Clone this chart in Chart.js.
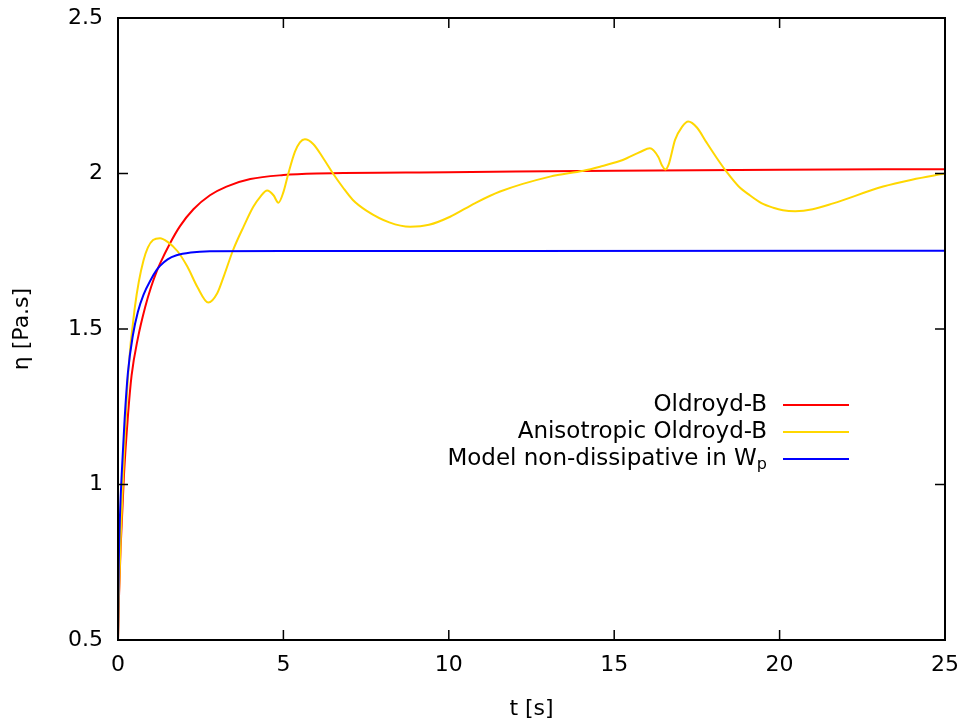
<!DOCTYPE html>
<html>
<head>
<meta charset="utf-8">
<script src="https://cdn.jsdelivr.net/npm/chart.js@4.4.0/dist/chart.umd.min.js"></script>
<style>
  body { margin: 0; background: #fff; }
  #wrap { width: 968px; height: 724px; }
</style>
</head>
<body>
<div id="wrap"><canvas id="chart" width="968" height="724"></canvas></div>
<script>
// values
let seriesNames = ['Oldroyd-B', 'Anisotropic Oldroyd-B', 'Model non-dissipative in W']
let seriesColors = ['#ff0000', '#ffd700', '#0000ff']

let tRed = [0, 0.03, 0.08, 0.18, 0.3, 0.41, 0.6, 0.82, 1.0, 1.17, 1.27, 1.57, 1.87, 2.28, 2.78, 3.28, 4.0, 5.0, 6.0, 10, 15, 20, 25]
let etaRed = [0.5, 0.64, 0.8, 1.03, 1.22, 1.35, 1.47, 1.57, 1.635, 1.685, 1.71, 1.775, 1.83, 1.885, 1.93, 1.958, 1.982, 1.995, 2.0, 2.004, 2.009, 2.012, 2.014]

let tYellow = [0, 0.03, 0.09, 0.16, 0.31, 0.51, 0.77, 1.06, 1.27, 1.5, 1.8, 2.1, 2.4, 2.73, 3.0, 3.2, 3.48, 3.8, 4.09, 4.3, 4.51, 4.7, 4.85, 5.0, 5.15, 5.35, 5.5, 5.65, 5.9, 6.2, 6.5, 6.8, 7.1, 7.52, 8.2, 8.83, 9.4, 10.04, 10.8, 11.55, 13.06, 14.07, 14.57, 15.17, 15.38, 15.8, 16.08, 16.33, 16.45, 16.55, 16.65, 16.84, 17.05, 17.24, 17.5, 17.79, 18.1, 18.4, 18.75, 19.1, 19.45, 19.81, 20.1, 20.47, 21.0, 21.62, 23.13, 24.0, 25]
let etaYellow = [0.5, 0.65, 0.85, 1.04, 1.36, 1.57, 1.72, 1.786, 1.792, 1.78, 1.75, 1.70, 1.635, 1.585, 1.615, 1.67, 1.754, 1.83, 1.893, 1.925, 1.945, 1.93, 1.906, 1.94, 2.0, 2.07, 2.1, 2.11, 2.095, 2.05, 2.0, 1.955, 1.915, 1.88, 1.843, 1.829, 1.835, 1.861, 1.905, 1.942, 1.99, 2.009, 2.022, 2.04, 2.049, 2.07, 2.081, 2.054, 2.025, 2.013, 2.03, 2.108, 2.15, 2.167, 2.148, 2.1, 2.05, 2.005, 1.96, 1.93, 1.905, 1.89, 1.882, 1.879, 1.885, 1.904, 1.958, 1.98, 2.0]

let tBlue = [0, 0.02, 0.06, 0.13, 0.2, 0.3, 0.45, 0.6, 0.77, 1.0, 1.17, 1.27, 1.5, 1.77, 2.2, 2.78, 5, 10, 25]
let etaBlue = [0.5, 0.72, 0.9, 1.07, 1.21, 1.36, 1.48, 1.555, 1.61, 1.66, 1.69, 1.703, 1.724, 1.737, 1.746, 1.75, 1.751, 1.751, 1.752]

let xTicks = [0, 5, 10, 15, 20, 25]
let xTickLabels = ['0', '5', '10', '15', '20', '25']
let yTicks = [0.5, 1, 1.5, 2, 2.5]
let yTickLabels = ['0.5', '1', '1.5', '2', '2.5']

function pairs(xs, ys) {
  return xs.map(function(x, i) { return { x: x, y: ys[i] } })
}

let font = 'DejaVu Sans'

// frame, inward ticks on all four sides, and the gnuplot style key
let framePlugin = {
  id: 'frame',
  afterDatasetsDraw: function(chart) {
    let c = chart.ctx
    let a = chart.chartArea
    let xs = chart.scales.x
    let ys = chart.scales.y
    c.save()
    c.strokeStyle = '#000'
    c.lineWidth = 1.5
    c.beginPath()
    xTicks.forEach(function(v) {
      let px = xs.getPixelForValue(v)
      c.moveTo(px, a.bottom); c.lineTo(px, a.bottom - 10)
      c.moveTo(px, a.top); c.lineTo(px, a.top + 10)
    })
    yTicks.forEach(function(v) {
      let py = ys.getPixelForValue(v)
      c.moveTo(a.left, py); c.lineTo(a.left + 10, py)
      c.moveTo(a.right, py); c.lineTo(a.right - 10, py)
    })
    c.stroke()
    c.lineWidth = 2
    c.strokeRect(a.left, a.top, a.right - a.left, a.bottom - a.top)

    // key
    let textRight = 767
    let lineX0 = 783
    let lineX1 = 849
    let rowY = [405, 432, 459]
    c.textBaseline = 'middle'
    c.textAlign = 'right'
    c.fillStyle = '#000'
    seriesNames.forEach(function(name, i) {
      let y = rowY[i]
      if (i === 2) {
        c.font = '16px "' + font + '"'
        let subW = c.measureText('p').width
        c.fillText('p', textRight, y + 6)
        c.font = '23px "' + font + '"'
        c.fillText(name, textRight - subW, y)
      } else {
        c.font = '23px "' + font + '"'
        c.fillText(name, textRight, y)
      }
      c.strokeStyle = seriesColors[i]
      c.lineWidth = 2
      c.beginPath()
      c.moveTo(lineX0, y)
      c.lineTo(lineX1, y)
      c.stroke()
    })
    c.restore()
  }
}

let ctx = document.getElementById('chart').getContext('2d')
let chart = new Chart(ctx, {
  type: 'line',
  data: {
    datasets: [
      { label: seriesNames[0], data: pairs(tRed, etaRed), borderColor: seriesColors[0], order: 2 },
      { label: seriesNames[1], data: pairs(tYellow, etaYellow), borderColor: seriesColors[1], order: 1 },
      { label: seriesNames[2], data: pairs(tBlue, etaBlue), borderColor: seriesColors[2], order: 0 }
    ]
  },
  options: {
    responsive: false,
    animation: false,
    datasets: {
      line: {
        borderWidth: 2,
        pointRadius: 0,
        cubicInterpolationMode: 'monotone',
        fill: false
      }
    },
    layout: { padding: { top: 18, right: 23, left: 0, bottom: 0 } },
    plugins: {
      legend: { display: false },
      tooltip: { enabled: false }
    },
    scales: {
      x: {
        type: 'linear',
        min: 0,
        max: 25,
        grid: { display: false, drawTicks: false },
        border: { display: false },
        afterBuildTicks: function(s) { s.ticks = xTicks.map(function(v) { return { value: v } }) },
        afterFit: function(s) {
          s.height = 84
          s.paddingLeft = 0
          s.paddingRight = 0
        },
        ticks: {
          color: '#000',
          padding: 12,
          maxRotation: 0,
          font: { family: font, size: 22 },
          callback: function(v) { return xTickLabels[xTicks.indexOf(v)] }
        },
        title: {
          display: true,
          text: 't [s]',
          color: '#000',
          font: { family: font, size: 22 },
          padding: { top: 0, bottom: 2 }
        }
      },
      y: {
        min: 0.5,
        max: 2.5,
        grid: { display: false, drawTicks: false },
        border: { display: false },
        afterBuildTicks: function(s) { s.ticks = yTicks.map(function(v) { return { value: v } }) },
        afterFit: function(s) {
          s.width = 118
          s.paddingTop = 0
          s.paddingBottom = 0
        },
        ticks: {
          color: '#000',
          padding: 15,
          font: { family: font, size: 22 },
          callback: function(v) { return yTickLabels[yTicks.indexOf(v)] }
        },
        title: {
          display: true,
          text: 'η [Pa.s]',
          color: '#000',
          font: { family: font, size: 22 },
          padding: { top: 9, bottom: 0 }
        }
      }
    }
  },
  plugins: [framePlugin]
})
</script>
</body>
</html>
